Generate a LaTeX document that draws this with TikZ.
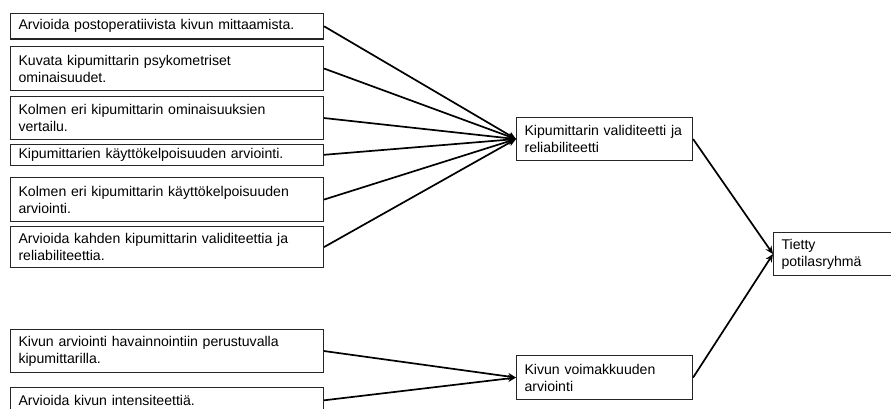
\documentclass[tikz,border=0pt]{standalone}
\usepackage{fontspec}
\setmainfont{Liberation Sans}
\usetikzlibrary{arrows.meta}
\begin{document}
\begin{tikzpicture}[x=1pt,y=-1pt,
  box/.style={draw=black!85, line width=1.1pt, anchor=north west, align=left,
    inner xsep=8pt, inner ysep=0pt, font=\fontsize{14.1}{17}\selectfont},
  lbox/.style={box, text width=297pt},
  mbox/.style={box, text width=160pt},
  conn/.style={line width=1.7pt, -{Stealth[length=8pt,width=7pt]}}]
\useasboundingbox (0,0) rectangle (891,409);
\fill[white] (0,0) rectangle (891,409);
\node[lbox, minimum height=25.5pt] (b1) at (10,13) {Arvioida postoperatiivista kivun mittaamista.};
\node[lbox, minimum height=44pt] (b2) at (10,46) {Kuvata kipumittarin psykometriset\\ominaisuudet.};
\node[lbox, minimum height=43pt] (b3) at (10,96) {Kolmen eri kipumittarin ominaisuuksien\\vertailu.};
\node[lbox, minimum height=20.5pt] (b4) at (10,144) {Kipumittarien käyttökelpoisuuden arviointi.};
\node[lbox, minimum height=44pt] (b5) at (10,177) {Kolmen eri kipumittarin käyttökelpoisuuden\\arviointi.};
\node[lbox, minimum height=41pt] (b6) at (10,226) {Arvioida kahden kipumittarin validiteettia ja\\reliabiliteettia.};
\node[lbox, minimum height=43pt] (b7) at (10,329) {Kivun arviointi havainnointiin perustuvalla\\kipumittarilla.};
\node[lbox, minimum height=25.5pt] (b8) at (10,387) {Arvioida kivun intensiteettiä.};
\node[mbox, minimum height=43pt] (m1) at (516,117) {Kipumittarin validiteetti ja\\reliabiliteetti};
\node[mbox, minimum height=44pt] (m2) at (516,355) {Kivun voimakkuuden\\arviointi};
\node[box, text width=110pt, minimum height=43pt] (r) at (773,232) {Tietty\\potilasryhmä};
\foreach \b in {b1,b2,b3,b4,b5,b6} \draw[conn] (\b.east) -- (m1.west);
\foreach \b in {b7,b8} \draw[conn] (\b.east) -- (m2.west);
\draw[conn] (m1.east) -- (r.west);
\draw[conn] (m2.east) -- (r.west);
\end{tikzpicture}
\end{document}
